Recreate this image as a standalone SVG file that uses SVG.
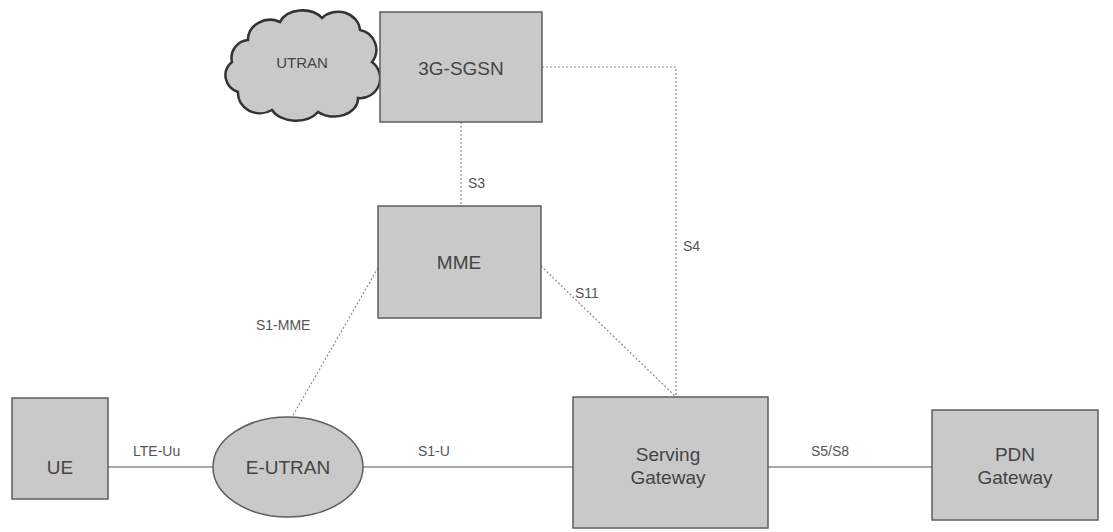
<svg xmlns="http://www.w3.org/2000/svg" width="1113" height="532" viewBox="0 0 1113 532">
  <style>
    .box { fill: #c9c9c9; stroke: #5e5e5e; stroke-width: 1.5; }
    .cloud { fill: #c9c9c9; stroke: #333333; stroke-width: 2.5; }
    .lbl { font-family: "Liberation Sans", Arial, sans-serif; font-size: 19px; fill: #444; text-anchor: middle; }
    .if { font-family: "Liberation Sans", Arial, sans-serif; font-size: 14px; fill: #555; }
    .dot { stroke: #8a8a8a; stroke-width: 1.2; fill: none; stroke-dasharray: 2 2; }
    .solid { stroke: #8a8a8a; stroke-width: 1.4; fill: none; }
  </style>
  <rect width="1113" height="532" fill="#ffffff"/>

  <g id="connectors">
    <!-- S3: 3G-SGSN to MME -->
    <line class="dot" x1="461" y1="122" x2="461" y2="206"/>
    <!-- S4: 3G-SGSN to Serving Gateway -->
    <polyline class="dot" points="542,67 676,67 676,397"/>
    <!-- S11: MME to Serving Gateway -->
    <line class="dot" x1="541" y1="266" x2="676" y2="397"/>
    <!-- S1-MME: MME to E-UTRAN -->
    <line class="dot" x1="378" y1="268" x2="292" y2="417"/>
    <!-- LTE-Uu -->
    <line class="solid" x1="108" y1="467" x2="213" y2="467"/>
    <!-- S1-U -->
    <line class="solid" x1="363" y1="467" x2="573" y2="467"/>
    <!-- S5/S8 -->
    <line class="solid" x1="768" y1="467" x2="932" y2="467"/>

    <text class="if" x="468" y="188">S3</text>
    <text class="if" x="683" y="251">S4</text>
    <text class="if" x="575" y="298">S11</text>
    <text class="if" x="256" y="330">S1-MME</text>
    <text class="if" x="133" y="456">LTE-Uu</text>
    <text class="if" x="418" y="456">S1-U</text>
    <text class="if" x="811" y="456">S5/S8</text>
  </g>

  <g id="utran">
    <path class="cloud" d="M248,40 A22,20 0 0 1 280,22 A24,18 0 0 1 322,18 A22,20 0 0 1 360,30 A20,20 0 0 1 372,62 A20,20 0 0 1 358,98 A24,18 0 0 1 318,112 A26,18 0 0 1 272,110 A22,20 0 0 1 238,92 A20,18 0 0 1 232,62 A18,18 0 0 1 248,40 Z"/>
    <text class="lbl" x="302" y="68" style="font-size:15px">UTRAN</text>
  </g>

  <g id="sgsn">
    <rect class="box" x="380" y="12" width="162" height="110"/>
    <text class="lbl" x="461" y="75">3G-SGSN</text>
  </g>

  <g id="mme">
    <rect class="box" x="378" y="206" width="163" height="112"/>
    <text class="lbl" x="459" y="269">MME</text>
  </g>

  <g id="ue">
    <rect class="box" x="12" y="398" width="96" height="101"/>
    <text class="lbl" x="60" y="474">UE</text>
  </g>

  <g id="eutran">
    <ellipse class="box" cx="288" cy="467" rx="75" ry="50"/>
    <text class="lbl" x="288" y="474">E-UTRAN</text>
  </g>

  <g id="sgw">
    <rect class="box" x="573" y="397" width="195" height="131"/>
    <text class="lbl" x="668" y="461">Serving</text>
    <text class="lbl" x="668" y="484">Gateway</text>
  </g>

  <g id="pgw">
    <rect class="box" x="932" y="410" width="166" height="110"/>
    <text class="lbl" x="1015" y="461">PDN</text>
    <text class="lbl" x="1015" y="484">Gateway</text>
  </g>
</svg>
